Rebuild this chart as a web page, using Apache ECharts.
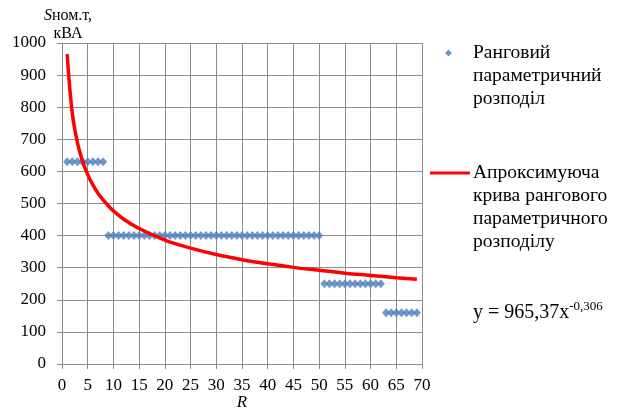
<!DOCTYPE html>
<html>
<head>
<meta charset="utf-8">
<script src="https://cdn.jsdelivr.net/npm/echarts@6/dist/echarts.min.js"></script>
<style>html,body{margin:0;padding:0;background:#fff}#c{width:620px;height:410px}</style>
</head>
<body>
<div id="c"></div>
<script>
const rankValues = [630,630,630,630,630,630,630,630,
  400,400,400,400,400,400,400,400,400,400,400,400,400,400,400,400,400,400,400,400,400,
  400,400,400,400,400,400,400,400,400,400,400,400,400,400,400,400,400,400,400,400,400,
  250,250,250,250,250,250,250,250,250,250,250,250,
  160,160,160,160,160,160,160];
const curveX = [1,2,3,4,5,6,7,8,9,10,12,15,20,25,30,35,40,45,50,55,60,65,69];
const curveY = [965,781,690,632,590,558,532,511,493,477,451,422,386,361,341,325,312,301,292,283,276,269,264];
const xTicks = [0,5,10,15,20,25,30,35,40,45,50,55,60,65,70];
const yTicks = [0,100,200,300,400,500,600,700,800,900,1000];
const seriesNames = ['Ранговий\nпараметричний\nрозподіл', 'Апроксимуюча\nкрива рангового\nпараметричного\nрозподілу'];
const equation = ['y = 965,37x', '-0,306'];

const scatterData = rankValues.map((v, i) => [i + 1, v]);
const curveData = curveX.map((x, i) => [x, curveY[i]]);
const FONT = 'Liberation Serif';
const gridColor = '#8c8c8c';
const LH = 23;
// leading blank lines so the first text line sits level with the legend icon
const pad = (s) => { const n = s.split('\n').length; return '\n'.repeat(n - 1) + s; };

const chart = echarts.init(document.getElementById('c'), null, {renderer: 'canvas'});
chart.setOption({
  animation: false,
  backgroundColor: '#fff',
  textStyle: {fontFamily: FONT},
  grid: {left: 62, right: 198, top: 43, bottom: 46, containLabel: false, outerBoundsMode: 'none'},
  xAxis: {
    type: 'value', min: xTicks[0], max: xTicks[xTicks.length - 1], interval: 5,
    name: 'R', nameLocation: 'middle', nameGap: 30, nameMoveOverlap: false,
    nameTextStyle: {fontFamily: FONT, fontStyle: 'italic', fontSize: 17, color: '#000'},
    axisLine: {lineStyle: {color: gridColor, width: 1}},
    axisTick: {show: true, length: 5, lineStyle: {color: gridColor}},
    axisLabel: {fontFamily: FONT, fontSize: 17, color: '#000', margin: 13},
    splitLine: {show: true, lineStyle: {color: gridColor, width: 1}}
  },
  yAxis: {
    type: 'value', min: yTicks[0], max: yTicks[yTicks.length - 1], interval: 100,
    name: '{i|S}ном.т,\nкВА', nameLocation: 'end', nameGap: 0, nameMoveOverlap: false,
    nameTextStyle: {fontFamily: FONT, fontSize: 16, color: '#000', lineHeight: 18,
      align: 'center', padding: [0, 0, 0, 12],
      rich: {i: {fontFamily: FONT, fontStyle: 'italic', fontSize: 16, color: '#000', lineHeight: 18}}},
    axisLine: {show: true, lineStyle: {color: gridColor, width: 1}},
    axisTick: {show: true, length: 5, lineStyle: {color: gridColor}},
    axisLabel: {fontFamily: FONT, fontSize: 17, color: '#000', margin: 16, formatter: (v) => String(v)},
    splitLine: {show: true, lineStyle: {color: gridColor, width: 1}}
  },
  legend: [
    {
      data: [{name: seriesNames[0], icon: 'diamond'}],
      formatter: pad,
      orient: 'vertical', left: 445, top: 53 - 2.5 * LH, padding: 0,
      itemWidth: 7, itemHeight: 7, selectedMode: false,
      textStyle: {fontFamily: FONT, fontSize: 19.5, color: '#000', lineHeight: LH, padding: [0, 0, 0, 16]}
    },
    {
      data: [{name: seriesNames[1], icon: 'rect'}],
      formatter: pad,
      orient: 'vertical', left: 430, top: 173 - 3.5 * LH, padding: 0,
      itemWidth: 40, itemHeight: 3, selectedMode: false,
      textStyle: {fontFamily: FONT, fontSize: 19.5, color: '#000', lineHeight: LH, padding: [0, 0, 0, -2]}
    }
  ],
  graphic: [{
    type: 'text', left: 473, top: 300,
    style: {
      text: '{a|' + equation[0] + '}{b|' + equation[1] + '}',
      rich: {
        a: {fontFamily: FONT, fontSize: 20, fill: '#000', lineHeight: 26},
        b: {fontFamily: FONT, fontSize: 13, fill: '#000', lineHeight: 26, padding: [0, 0, 13, 0]}
      }
    }
  }],
  series: [
    {
      name: seriesNames[0], type: 'scatter', data: scatterData,
      symbol: 'diamond', symbolSize: [8, 9],
      itemStyle: {color: '#4a7ebb'}, z: 2
    },
    {
      name: seriesNames[1], type: 'line', data: curveData, smooth: 0.4,
      showSymbol: false, symbol: 'none',
      lineStyle: {color: '#ff0000', width: 3.5}, itemStyle: {color: '#ff0000'}, z: 3
    }
  ]
});
</script>
</body>
</html>
